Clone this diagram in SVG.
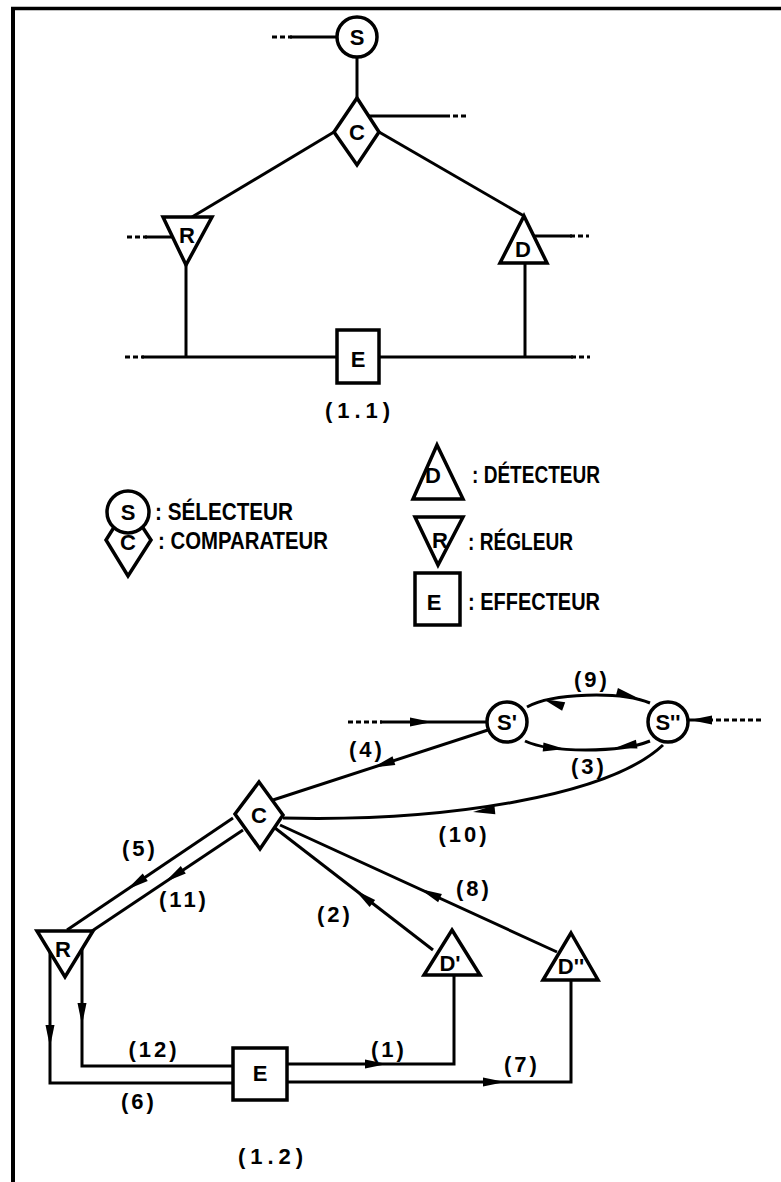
<svg xmlns="http://www.w3.org/2000/svg" xmlns:xlink="http://www.w3.org/1999/xlink" width="781" height="1182" viewBox="0 0 781 1182">
<style>
.ln{stroke:#000;stroke-width:3;fill:none}
.dl{stroke:#000;stroke-width:3;fill:none;stroke-dasharray:5 3}
.sh{fill:#fff;stroke:#000;stroke-width:3.5}
.t{font-family:"Liberation Sans",Arial,sans-serif;font-weight:bold;fill:#000}
.nd{font-size:22px;text-anchor:middle}
.lb{font-size:22px;letter-spacing:3px;text-anchor:middle}
.cap{font-size:22px;letter-spacing:5px;text-anchor:middle}
.lg{font-size:23px}
</style>
<defs>
<path id="ah" d="M0,0 L-22,-4.5 L-22,4.5 Z" fill="#000"/>
</defs>
<rect width="781" height="1182" fill="#fff"/>
<g id="frame">
<line x1="11" y1="8.5" x2="781" y2="8.5" stroke="#000" stroke-width="3.5"/>
<line x1="13" y1="7" x2="13" y2="1182" stroke="#000" stroke-width="4"/>
</g>

<!-- Diagram 1.1 connectors -->
<g id="connectors-1-1">
<line class="dl" x1="272" y1="37" x2="292" y2="37"/>
<line class="ln" x1="290" y1="37" x2="337" y2="37"/>
<line class="ln" x1="357" y1="57" x2="357" y2="98"/>
<line class="ln" x1="369" y1="116" x2="445" y2="116"/>
<line class="dl" x1="445" y1="116" x2="467" y2="116"/>
<line class="ln" x1="334" y1="132" x2="192" y2="217"/>
<line class="ln" x1="379" y1="132" x2="524" y2="216"/>
<line class="dl" x1="127" y1="237" x2="147" y2="237"/>
<line class="ln" x1="145" y1="237" x2="173" y2="237"/>
<line class="ln" x1="186" y1="265" x2="186" y2="357"/>
<line class="ln" x1="534" y1="236" x2="572" y2="236"/>
<line class="dl" x1="570" y1="236" x2="589" y2="236"/>
<line class="ln" x1="525" y1="263" x2="525" y2="357"/>
<line class="dl" x1="125" y1="357" x2="144" y2="357"/>
<line class="ln" x1="142" y1="357" x2="337" y2="357"/>
<line class="ln" x1="379" y1="357" x2="573" y2="357"/>
<line class="dl" x1="571" y1="357" x2="590" y2="357"/>
</g>
<g id="n11-S"><circle class="sh" cx="357" cy="37" r="20"/><text class="t nd" x="357" y="45">S</text></g>
<g id="n11-C"><polygon class="sh" points="357,98 379,132 357,165 334,132"/><text class="t nd" x="357" y="140">C</text></g>
<g id="n11-R"><polygon class="sh" points="163,217 212,217 186,265"/><text class="t nd" x="187" y="243">R</text></g>
<g id="n11-D"><polygon class="sh" points="524,216 547,263 500,263"/><text class="t nd" x="523" y="257">D</text></g>
<g id="n11-E"><rect class="sh" x="337" y="330" width="42" height="53"/><text class="t nd" x="358" y="367">E</text></g>
<text class="t cap" x="360" y="418">(1.1)</text>

<!-- Legend -->
<g id="leg-C"><polygon class="sh" points="128,505 151,540 128,576 106,540"/><text class="t lg" x="158" y="549" textLength="170" lengthAdjust="spacingAndGlyphs">: COMPARATEUR</text></g>
<g id="leg-S"><circle class="sh" cx="128" cy="512" r="21"/><text class="t nd" x="128" y="520">S</text><text class="t lg" x="155" y="520" textLength="138" lengthAdjust="spacingAndGlyphs">: SÉLECTEUR</text></g>
<text class="t nd" x="128" y="550">C</text>
<g id="leg-D"><polygon class="sh" points="437,445 463,499 413,499"/><text class="t nd" x="433" y="483">D</text><text class="t lg" x="472" y="483" textLength="128" lengthAdjust="spacingAndGlyphs">: DÉTECTEUR</text></g>
<g id="leg-R"><polygon class="sh" points="415,517 463,517 438,565"/><text class="t nd" x="440" y="548">R</text><text class="t lg" x="468" y="550" textLength="105" lengthAdjust="spacingAndGlyphs">: RÉGLEUR</text></g>
<g id="leg-E"><rect class="sh" x="415" y="573" width="45" height="52"/><text class="t nd" x="434" y="610">E</text><text class="t lg" x="468" y="610" textLength="132" lengthAdjust="spacingAndGlyphs">: EFFECTEUR</text></g>

<!-- Diagram 1.2 connectors -->
<g id="connectors-1-2">
<line class="dl" x1="348" y1="722" x2="382" y2="722"/>
<line class="ln" x1="380" y1="722" x2="487" y2="722"/>
<use xlink:href="#ah" transform="translate(432,722)"/>
<line class="dl" x1="708" y1="720" x2="762" y2="720"/>
<line class="ln" x1="688" y1="720" x2="710" y2="720"/>
<use xlink:href="#ah" transform="translate(690,720) rotate(180)"/>
<path class="ln" d="M527,707 C552,693 620,691 650,703"/>
<use xlink:href="#ah" transform="translate(543,699) rotate(200)"/>
<use xlink:href="#ah" transform="translate(638,698) rotate(15)"/>
<path class="ln" d="M525,741 C550,753 620,753 650,741"/>
<use xlink:href="#ah" transform="translate(565,749) rotate(5)"/>
<use xlink:href="#ah" transform="translate(615,748) rotate(170)"/>
<line class="ln" x1="488" y1="730" x2="273" y2="800"/>
<use xlink:href="#ah" transform="translate(373,767.4) rotate(162)"/>
<path class="ln" d="M663,745 C610,795 450,822 283,818"/>
<use xlink:href="#ah" transform="translate(473,812) rotate(174)"/>
<line class="ln" x1="233" y1="818" x2="67" y2="930"/>
<use xlink:href="#ah" transform="translate(127,889.5) rotate(146)"/>
<line class="ln" x1="243" y1="830" x2="92" y2="931"/>
<use xlink:href="#ah" transform="translate(165,882) rotate(146.2)"/>
<line class="ln" x1="275" y1="828" x2="433" y2="950"/>
<use xlink:href="#ah" transform="translate(355,890) rotate(-142.3)"/>
<line class="ln" x1="280" y1="825" x2="557" y2="952"/>
<use xlink:href="#ah" transform="translate(420,889) rotate(-155.4)"/>
<polyline class="ln" points="50,952 50,1083 233,1083"/>
<use xlink:href="#ah" transform="translate(50,1047) rotate(90)"/>
<polyline class="ln" points="82,949 82,1066 233,1066"/>
<use xlink:href="#ah" transform="translate(82,1025) rotate(90)"/>
<polyline class="ln" points="287,1064 454,1064 454,975"/>
<use xlink:href="#ah" transform="translate(387,1064)"/>
<polyline class="ln" points="287,1082 571,1082 571,980"/>
<use xlink:href="#ah" transform="translate(505,1082)"/>
</g>
<g id="n12-S1"><circle class="sh" cx="507" cy="722" r="20"/><text class="t nd" x="507" y="730">S'</text></g>
<g id="n12-S2"><circle class="sh" cx="668" cy="722" r="20"/><text class="t nd" x="668" y="730">S''</text></g>
<g id="n12-C"><polygon class="sh" points="259,782 283,815 260,849 235,814"/><text class="t nd" x="259" y="823">C</text></g>
<g id="n12-R"><polygon class="sh" points="37,931 93,931 65,977"/><text class="t nd" x="63" y="957">R</text></g>
<g id="n12-D1"><polygon class="sh" points="452,930 480,975 424,975"/><text class="t nd" x="450" y="971">D'</text></g>
<g id="n12-D2"><polygon class="sh" points="571,933 598,980 543,980"/><text class="t nd" x="571" y="974">D''</text></g>
<g id="n12-E"><rect class="sh" x="233" y="1048" width="54" height="52"/><text class="t nd" x="260" y="1081">E</text></g>

<g id="labels-1-2">
<text class="t lb" x="592" y="687">(9)</text>
<text class="t lb" x="589" y="774">(3)</text>
<text class="t lb" x="367" y="757">(4)</text>
<text class="t lb" x="464" y="842">(10)</text>
<text class="t lb" x="140" y="856">(5)</text>
<text class="t lb" x="184" y="907">(11)</text>
<text class="t lb" x="335" y="922">(2)</text>
<text class="t lb" x="474" y="896">(8)</text>
<text class="t lb" x="154" y="1057">(12)</text>
<text class="t lb" x="139" y="1109">(6)</text>
<text class="t lb" x="389" y="1057">(1)</text>
<text class="t lb" x="522" y="1072">(7)</text>
<text class="t cap" x="273" y="1164">(1.2)</text>
</g>
</svg>
